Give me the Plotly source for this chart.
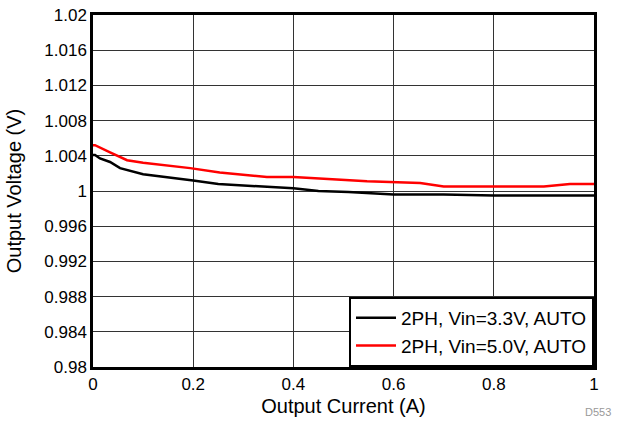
import plotly.graph_objects as go

# Output current (A) and output voltage (V)
x_33 = [0.0, 0.004, 0.014, 0.034, 0.054, 0.10, 0.20, 0.25, 0.40, 0.45, 0.51, 0.547, 0.60, 0.70, 0.80, 0.90, 1.0]
v_33 = [1.0041, 1.0041, 1.0037, 1.0033, 1.0026, 1.0019, 1.0012, 1.0008, 1.0003, 1.0000, 0.9999, 0.9998, 0.9996, 0.9996, 0.9995, 0.9995, 0.9995]

x_50 = [0.0, 0.004, 0.034, 0.068, 0.10, 0.194, 0.253, 0.347, 0.40, 0.493, 0.547, 0.653, 0.70, 0.80, 0.90, 0.952, 1.0]
v_50 = [1.0052, 1.0052, 1.0044, 1.0035, 1.0032, 1.0026, 1.0021, 1.0016, 1.0016, 1.0013, 1.0011, 1.0009, 1.0005, 1.0005, 1.0005, 1.0008, 1.0008]

x_ticks = [0, 0.2, 0.4, 0.6, 0.8, 1.0]
x_ticklabels = ["0", "0.2", "0.4", "0.6", "0.8", "1"]
y_ticks = [0.98, 0.984, 0.988, 0.992, 0.996, 1.0, 1.004, 1.008, 1.012, 1.016, 1.02]
y_ticklabels = ["0.98", "0.984", "0.988", "0.992", "0.996", "1", "1.004", "1.008", "1.012", "1.016", "1.02"]

FAM = "Arial, Liberation Sans, sans-serif"

fig = go.Figure()
fig.add_trace(go.Scatter(x=x_33, y=v_33, mode="lines", name="2PH, Vin=3.3V, AUTO",
                         line=dict(color="black", width=2.5)))
fig.add_trace(go.Scatter(x=x_50, y=v_50, mode="lines", name="2PH, Vin=5.0V, AUTO",
                         line=dict(color="#ff0000", width=2.5)))

fig.update_layout(
    width=621, height=424,
    margin=dict(l=93, r=27, t=15, b=57, autoexpand=False),
    paper_bgcolor="white", plot_bgcolor="white",
    font=dict(family=FAM, size=17, color="black"),
    showlegend=True,
    legend=dict(x=1, y=0, xanchor="right", yanchor="bottom",
                bordercolor="black", borderwidth=2, bgcolor="white",
                font=dict(family=FAM, size=19),
                tracegroupgap=0, itemwidth=40),
    xaxis=dict(range=[0, 1], tickvals=x_ticks, ticktext=x_ticklabels,
               showgrid=True, gridcolor="#333333", gridwidth=1,
               showline=True, linecolor="black", linewidth=2.5, mirror=True,
               ticks="", zeroline=False, automargin=False,
               title=dict(text="Output Current (A)", standoff=6)),
    yaxis=dict(range=[0.98, 1.02], tickvals=y_ticks, ticktext=y_ticklabels,
               showgrid=True, gridcolor="#333333", gridwidth=1,
               showline=True, linecolor="black", linewidth=2.5, mirror=True,
               ticks="", zeroline=False, automargin=False,
               title=dict(text="Output Voltage (V)", standoff=18)),
    annotations=[dict(text="D553", xref="paper", yref="paper", x=1.038, y=-0.128,
                      xanchor="right", yanchor="middle", showarrow=False,
                      font=dict(size=11, color="#999999", family=FAM))],
)

fig.write_html("out.html", config={"displayModeBar": False},
               post_script="document.body.style.margin='0';")
